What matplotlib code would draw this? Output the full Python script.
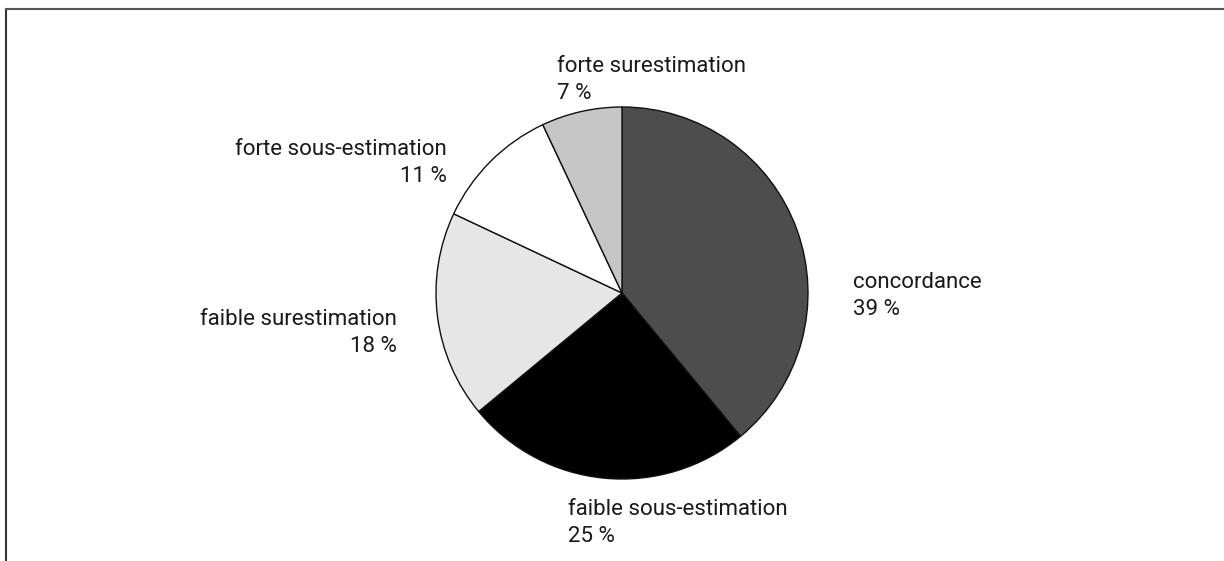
import matplotlib.pyplot as plt
from matplotlib.lines import Line2D

# Slice data, clockwise from 12 o'clock
categories = ["concordance", "faible sous-estimation", "faible surestimation",
              "forte sous-estimation", "forte surestimation"]
shares = [39, 25, 18, 11, 7]
colors = ["#4d4d4d", "#000000", "#e6e6e6", "#ffffff", "#c6c6c6"]

W, H = 1224, 561
fig = plt.figure(figsize=(W / 100, H / 100), dpi=100)
ax = fig.add_axes([0, 0, 1, 1])

ax.pie(shares, colors=colors, startangle=90, counterclock=False,
       center=(622, H - 293), radius=186, frame=True,
       wedgeprops=dict(edgecolor="#111111", linewidth=1.0))
ax.set_xlim(0, W)
ax.set_ylim(0, H)
ax.set_aspect("equal")
ax.axis("off")

# label placement: (x, baseline of first line, alignment) in pixels from top-left
label_pos = {
    "forte surestimation": (557, 72, "left"),
    "forte sous-estimation": (447, 155, "right"),
    "faible surestimation": (397, 325, "right"),
    "concordance": (853, 288, "left"),
    "faible sous-estimation": (568, 515, "left"),
}
font = dict(family=["Roboto", "DejaVu Sans"], fontsize=16, color="#1a1a1a")
for name, share in zip(categories, shares):
    x, y, ha = label_pos[name]
    ax.text(x, H - y, name, ha=ha, va="baseline", **font)
    ax.text(x, H - y - 27, f"{share} %", ha=ha, va="baseline", **font)

# partial frame: top and left edges
fig.add_artist(Line2D([6 / W, 6 / W], [0, 1 - 9 / H], color="#333333", lw=1.5))
fig.add_artist(Line2D([6 / W, 1], [1 - 9 / H, 1 - 9 / H], color="#555555", lw=1.5))

fig.savefig("out.png", dpi=100)
